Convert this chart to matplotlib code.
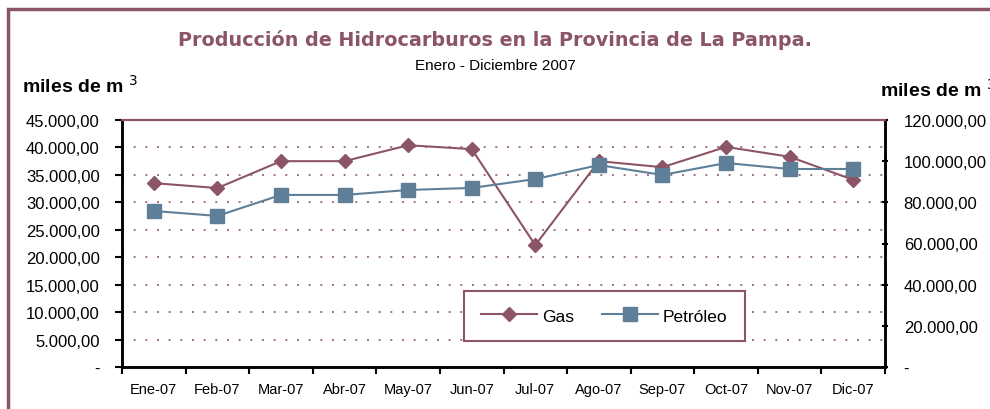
import matplotlib
matplotlib.use("Agg")
import matplotlib.pyplot as plt
from matplotlib.patches import Rectangle
from matplotlib.ticker import FixedLocator, FuncFormatter
import numpy as np

plt.rcParams['font.family'] = ['Liberation Sans', 'DejaVu Sans']

meses = ["Ene-07", "Feb-07", "Mar-07", "Abr-07", "May-07", "Jun-07",
         "Jul-07", "Ago-07", "Sep-07", "Oct-07", "Nov-07", "Dic-07"]
gas = [33500, 32600, 37500, 37500, 40400, 39700,
       22200, 37500, 36400, 40100, 38300, 34100]
petroleo = [75800, 73400, 83600, 83600, 86000, 87000,
            91300, 98100, 93300, 99100, 96200, 96200]

MAROON = "#8c5566"
BLUE = "#5f7f99"
GRID = "#a07080"


def fmt_es(v, pos=None):
    if v == 0:
        return "-"
    s = f"{v:,.2f}"
    return s.replace(",", "X").replace(".", ",").replace("X", ".")


fig = plt.figure(figsize=(9.9, 4.1), dpi=100)
fig.patches.append(Rectangle((8 / 990, -0.05), 1.1, 1.05 - 10 / 410,
                             transform=fig.transFigure, fill=False,
                             edgecolor=MAROON, linewidth=2.5))

ax = fig.add_axes([122 / 990, 1 - 368 / 410, 763 / 990, 247 / 410])
ax2 = ax.twinx()

x = np.arange(len(meses))
ax.plot(x, gas, color=MAROON, lw=1.5, marker="D", ms=7.5,
        mfc=MAROON, mec=MAROON, label="Gas", zorder=3)
ax2.plot(x, petroleo, color=BLUE, lw=1.5, marker="s", ms=9.5,
         mfc=BLUE, mec=BLUE, label="Petróleo", zorder=3)

ax.set_xlim(-0.5, len(meses) - 0.5)
ax.set_ylim(0, 45000)
ax2.set_ylim(0, 120000)

ax.yaxis.set_major_locator(FixedLocator(np.arange(0, 45001, 5000)))
ax2.yaxis.set_major_locator(FixedLocator(np.arange(0, 120001, 20000)))
ax.yaxis.set_major_formatter(FuncFormatter(fmt_es))
ax2.yaxis.set_major_formatter(FuncFormatter(fmt_es))

# puntos de la grilla
for g in np.arange(5000, 45000, 5000):
    ax.axhline(g, color=GRID, lw=1.4, ls=(0, (1, 5)), zorder=1)

ax.set_xticks(x)
ax.set_xticklabels(meses)
ax.set_xticks(np.arange(-0.5, len(meses), 1), minor=True)
ax.tick_params(axis="x", which="major", length=0, pad=11, labelsize=10.5)
ax.tick_params(axis="x", which="minor", length=5, width=1.5, direction="out")
ax.tick_params(axis="y", length=5, width=1.5, direction="out", labelsize=12, pad=11)
ax2.tick_params(axis="y", length=5, width=1.5, direction="inout", labelsize=12, pad=11)

for a in (ax, ax2):
    a.spines["top"].set_color(MAROON)
    a.spines["top"].set_linewidth(1.5)
    a.spines["left"].set_linewidth(1.8)
    a.spines["right"].set_linewidth(1.8)
    a.spines["bottom"].set_linewidth(1.8)

h1, l1 = ax.get_legend_handles_labels()
h2, l2 = ax2.get_legend_handles_labels()
leg = ax2.legend(h1 + h2, l1 + l2, loc="upper left",
                 bbox_to_anchor=((464 - 122) / 763, (368 - 339) / 247, 281 / 763, 47 / 247),
                 mode="expand", ncol=2, frameon=True, fancybox=False,
                 fontsize=12.5, handlelength=3.2, borderaxespad=0, borderpad=1.0,
                 columnspacing=2.0, handletextpad=0.3)
leg.get_frame().set_edgecolor(MAROON)
leg.get_frame().set_linewidth(1.5)
leg.get_frame().set_alpha(1)

fig.text(0.5, 1 - 40 / 410, "Producción de Hidrocarburos en la Provincia de La Pampa.",
         ha="center", va="center", fontsize=13.8, fontweight="bold", color=MAROON,
         family="DejaVu Sans")
fig.text(0.5, 1 - 66 / 410, "Enero - Diciembre 2007", ha="center", va="center",
         fontsize=11)
fig.text(22 / 990, 1 - 86 / 410, "miles de m $^{3}$", ha="left", va="center",
         fontsize=14, fontweight="bold")
fig.text(880 / 990, 1 - 90 / 410, "miles de m $^{3}$", ha="left", va="center",
         fontsize=14, fontweight="bold")

fig.savefig("out.png", dpi=100)
